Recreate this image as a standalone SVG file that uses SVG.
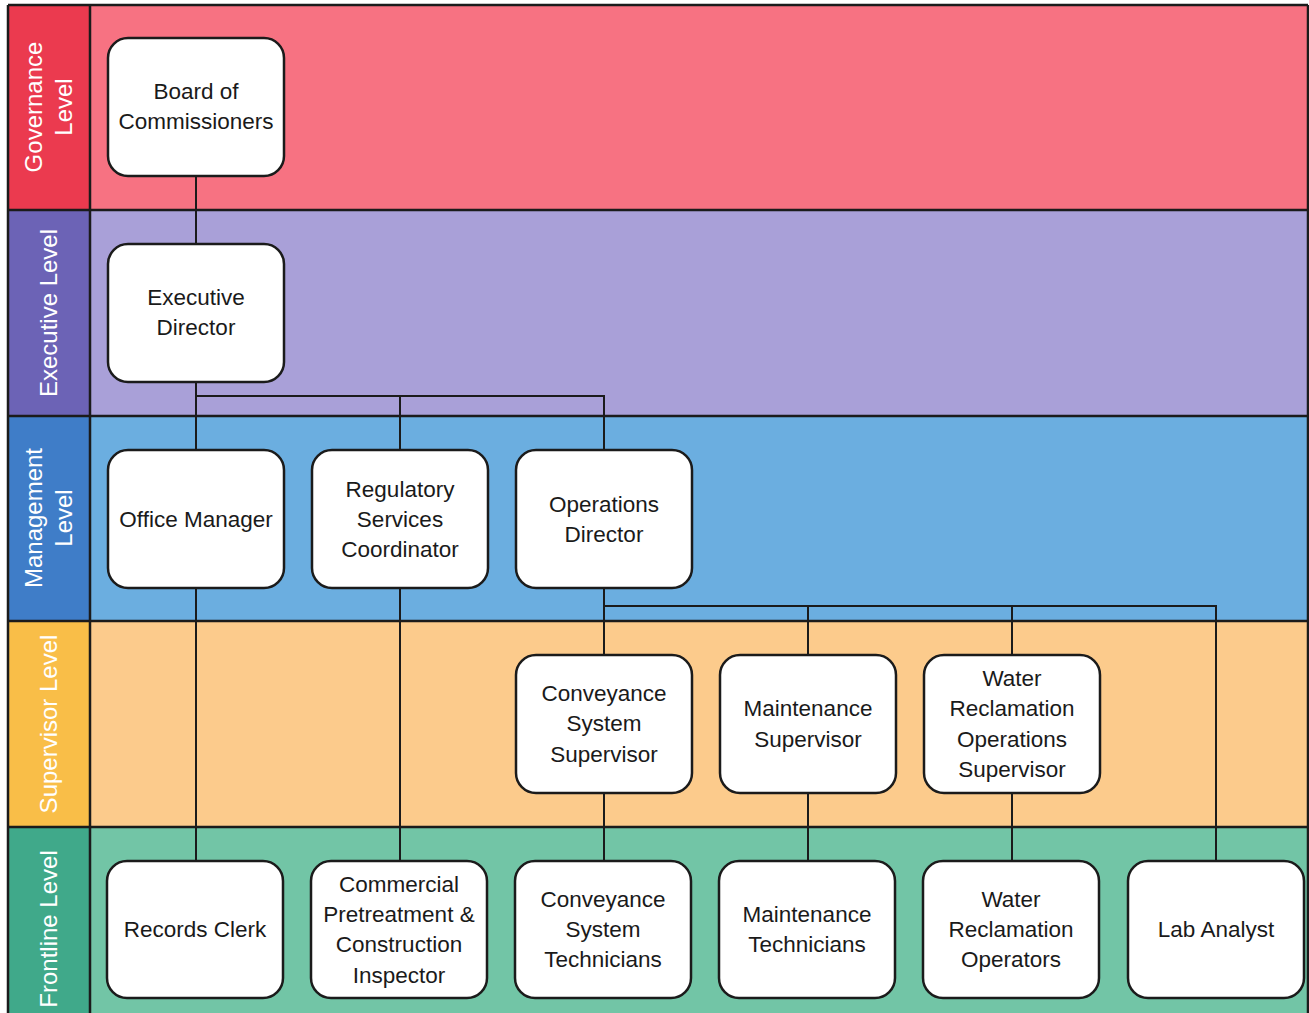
<svg xmlns="http://www.w3.org/2000/svg" width="1309" height="1013" viewBox="0 0 1309 1013">
<style>
.node rect{fill:#fff;stroke:#1b1b1b;stroke-width:2.5}
.node text{font-family:"Liberation Sans",Arial,sans-serif;font-size:22.5px;fill:#1a1a1a;text-anchor:middle}
.lvl{font-family:"Liberation Sans",Arial,sans-serif;font-size:24px;fill:#fff;text-anchor:middle}
.conn line,.conn polyline{stroke:#1b1b1b;stroke-width:2;fill:none}
.frame line{stroke:#1b1b1b;stroke-width:2.5}
</style>
<rect width="1309" height="1013" fill="#fff"/>
<g id="bands">
<rect x="8" y="5" width="1300" height="205" fill="#F77282"/>
<rect x="8" y="5" width="82" height="205" fill="#EB3A4F"/>
<rect x="8" y="210" width="1300" height="206" fill="#A9A0D8"/>
<rect x="8" y="210" width="82" height="206" fill="#6C63B6"/>
<rect x="8" y="416" width="1300" height="205" fill="#6BAEE0"/>
<rect x="8" y="416" width="82" height="205" fill="#3F7DC8"/>
<rect x="8" y="621" width="1300" height="206" fill="#FCCB8C"/>
<rect x="8" y="621" width="82" height="206" fill="#F9BE48"/>
<rect x="8" y="827" width="1300" height="186" fill="#72C5A6"/>
<rect x="8" y="827" width="82" height="186" fill="#40A98A"/>
</g>
<g class="frame">
<line x1="8" y1="5" x2="1308" y2="5"/>
<line x1="8" y1="210" x2="1308" y2="210"/>
<line x1="8" y1="416" x2="1308" y2="416"/>
<line x1="8" y1="621" x2="1308" y2="621"/>
<line x1="8" y1="827" x2="1308" y2="827"/>
<line x1="90" y1="5" x2="90" y2="1013"/>
<line x1="8" y1="5" x2="8" y2="1013"/>
<line x1="1308" y1="5" x2="1308" y2="1013"/>
</g>
<g id="levels">
<text class="lvl" transform="translate(42,107) rotate(-90)"><tspan x="0" y="0">Governance</tspan><tspan x="0" y="30">Level</tspan></text>
<text class="lvl" transform="translate(57,313) rotate(-90)">Executive Level</text>
<text class="lvl" transform="translate(42,518) rotate(-90)"><tspan x="0" y="0">Management</tspan><tspan x="0" y="30">Level</tspan></text>
<text class="lvl" transform="translate(57,724) rotate(-90)">Supervisor Level</text>
<text class="lvl" transform="translate(57,929) rotate(-90)">Frontline Level</text>
</g>
<g class="conn" id="connectors">
<line x1="196" y1="176" x2="196" y2="244"/>
<line x1="196" y1="382" x2="196" y2="450"/>
<polyline points="196,396 604,396 604,450"/>
<line x1="400" y1="396" x2="400" y2="450"/>
<line x1="196" y1="588" x2="196" y2="861"/>
<line x1="400" y1="588" x2="400" y2="861"/>
<line x1="604" y1="588" x2="604" y2="655"/>
<polyline points="604,606 1216,606 1216,861"/>
<line x1="808" y1="606" x2="808" y2="655"/>
<line x1="1012" y1="606" x2="1012" y2="655"/>
<line x1="604" y1="793" x2="604" y2="861"/>
<line x1="808" y1="793" x2="808" y2="861"/>
<line x1="1012" y1="793" x2="1012" y2="861"/>
</g>
<g id="board" class="node"><rect x="108" y="38" width="176" height="138" rx="20"/><text x="196" y="99">Board of</text><text x="196" y="129">Commissioners</text></g>
<g id="exec" class="node"><rect x="108" y="244" width="176" height="138" rx="20"/><text x="196" y="305">Executive</text><text x="196" y="335">Director</text></g>
<g id="office" class="node"><rect x="108" y="450" width="176" height="138" rx="20"/><text x="196" y="527">Office Manager</text></g>
<g id="regulatory" class="node"><rect x="312" y="450" width="176" height="138" rx="20"/><text x="400" y="497">Regulatory</text><text x="400" y="527">Services</text><text x="400" y="557">Coordinator</text></g>
<g id="opsdir" class="node"><rect x="516" y="450" width="176" height="138" rx="20"/><text x="604" y="512">Operations</text><text x="604" y="542">Director</text></g>
<g id="convsup" class="node"><rect x="516" y="655" width="176" height="138" rx="20"/><text x="604" y="701">Conveyance</text><text x="604" y="731">System</text><text x="604" y="762">Supervisor</text></g>
<g id="maintsup" class="node"><rect x="720" y="655" width="176" height="138" rx="20"/><text x="808" y="716">Maintenance</text><text x="808" y="747">Supervisor</text></g>
<g id="wrsup" class="node"><rect x="924" y="655" width="176" height="138" rx="20"/><text x="1012" y="686">Water</text><text x="1012" y="716">Reclamation</text><text x="1012" y="747">Operations</text><text x="1012" y="777">Supervisor</text></g>
<g id="records" class="node"><rect x="107" y="861" width="176" height="137" rx="20"/><text x="195" y="937">Records Clerk</text></g>
<g id="commercial" class="node"><rect x="311" y="861" width="176" height="137" rx="20"/><text x="399" y="892">Commercial</text><text x="399" y="922">Pretreatment &amp;</text><text x="399" y="952">Construction</text><text x="399" y="983">Inspector</text></g>
<g id="convtech" class="node"><rect x="515" y="861" width="176" height="137" rx="20"/><text x="603" y="907">Conveyance</text><text x="603" y="937">System</text><text x="603" y="967">Technicians</text></g>
<g id="mainttech" class="node"><rect x="719" y="861" width="176" height="137" rx="20"/><text x="807" y="922">Maintenance</text><text x="807" y="952">Technicians</text></g>
<g id="wrops" class="node"><rect x="923" y="861" width="176" height="137" rx="20"/><text x="1011" y="907">Water</text><text x="1011" y="937">Reclamation</text><text x="1011" y="967">Operators</text></g>
<g id="lab" class="node"><rect x="1128" y="861" width="176" height="137" rx="20"/><text x="1216" y="937">Lab Analyst</text></g>
</svg>
